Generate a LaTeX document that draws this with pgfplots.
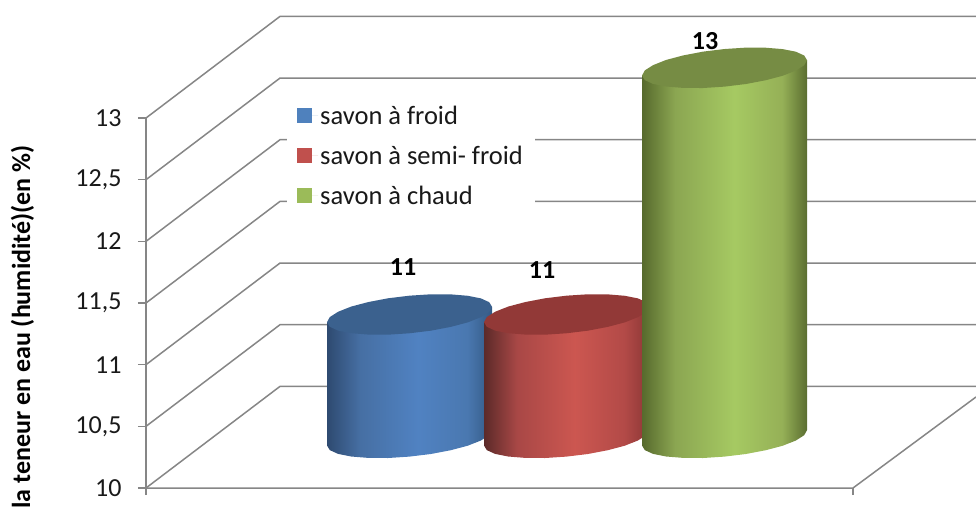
\documentclass[border=0pt]{standalone}
\usepackage{fontspec}
\setmainfont{Carlito}
\usepackage{pgfplots}
\usepackage{pgfplotstable}
\pgfplotsset{compat=1.18}

\definecolor{wall}{HTML}{868686}
\definecolor{bluetop}{HTML}{3B618E}
\definecolor{redtop}{HTML}{923937}
\definecolor{greentop}{HTML}{768C44}
\definecolor{bluekey}{HTML}{4F81BD}
\definecolor{redkey}{HTML}{C0504D}
\definecolor{greenkey}{HTML}{9BBB59}

% side of each cylinder, dark at both edges
\pgfdeclarehorizontalshading{blueside}{100bp}{rgb(0bp)=(.18,.29,.44); rgb(25bp)=(.18,.29,.44); rgb(35bp)=(.275,.435,.64); rgb(52.5bp)=(.314,.51,.76); rgb(67.5bp)=(.29,.47,.69); rgb(75bp)=(.2,.35,.52); rgb(100bp)=(.2,.35,.52)}
\pgfdeclarehorizontalshading{redside}{100bp}{rgb(0bp)=(.36,.165,.16); rgb(25bp)=(.36,.165,.16); rgb(35bp)=(.66,.28,.275); rgb(52.5bp)=(.80,.34,.315); rgb(67.5bp)=(.70,.29,.28); rgb(75bp)=(.545,.215,.21); rgb(100bp)=(.545,.215,.21)}
\pgfdeclarehorizontalshading{greenside}{100bp}{rgb(0bp)=(.34,.415,.175); rgb(25bp)=(.34,.415,.175); rgb(35bp)=(.545,.65,.32); rgb(53bp)=(.65,.79,.385); rgb(67.5bp)=(.585,.69,.34); rgb(75bp)=(.355,.43,.19); rgb(100bp)=(.355,.43,.19)}

% outlines, in pixels from the cylinder's centre; level 0 = floor, 1 = top
\pgfplotstableread{
dx dy level
-82.5 -7.7 1
-82.5 -7.7 0
-79.7 -12.3 0
-71.4 -16.1 0
-58.3 -18.7 0
-41.3 -20.1 0
-21.4 -20.2 0
0 -18.8 0
21.4 -16.2 0
41.3 -12.4 0
58.3 -7.9 0
71.4 -2.7 0
79.7 2.6 0
82.5 7.7 0
82.5 7.7 1
}\bodyshape
\pgfplotstableread{
dx dy
82.5 7.7
79.7 12.3
71.4 16.1
58.3 18.7
41.3 20.1
21.4 20.2
0 18.8
-21.4 16.2
-41.3 12.4
-58.3 7.9
-71.4 2.7
-79.7 -2.6
-82.5 -7.7
-79.7 -12.3
-71.4 -16.1
-58.3 -18.7
-41.3 -20.1
-21.4 -20.2
0 -18.8
21.4 -16.2
41.3 -12.4
58.3 -7.9
71.4 -2.7
79.7 2.6
}\topshape

% #1 centre x, #2 value, #3 side shading, #4 top colour
\newcommand{\cylinder}[4]{%
  \addplot[forget plot, draw=none, shade, shading=#3] table[
    x expr=#1+\thisrow{dx},
    y expr=10.407+\thisrow{level}*(#2-10)+\thisrow{dy}/123.33] {\bodyshape} -- cycle;
  \addplot[forget plot, draw=none, fill=#4] table[
    x expr=#1+\thisrow{dx},
    y expr=10.407+(#2-10)+\thisrow{dy}/123.33] {\topshape} -- cycle;
}

\begin{document}
\begin{tikzpicture}
\path[use as bounding box] (-146pt,0pt) rectangle (830pt,511pt);
\clip (-146pt,0pt) rectangle (830pt,511pt);
\begin{axis}[
    scale only axis,
    width=830pt,
    height=511pt,
    xmin=146, xmax=976,
    ymin=9.8135, ymax=13.957,
    clip=false,
    hide x axis,
    axis y line*=left,
    y axis line style={draw=none},
    ytick={10,10.5,11,11.5,12,12.5,13},
    tick align=outside,
    major tick length=8pt,
    tick style={draw=wall, line width=1.5pt},
    /pgf/number format/assume math mode=true,
    /pgf/number format/use comma,
    /pgf/number format/fixed,
    yticklabel style={font=\fontsize{26}{30}\selectfont, xshift=-13pt, text=black!90},
    ylabel={\textbf{la teneur en eau (humidité)(en \%)}},
    ylabel style={font=\fontsize{26}{30}\selectfont, at={(axis description cs:-0.149,0.36)}, anchor=center, rotate=0},
    legend image code/.code={\fill[#1] (0pt,-7.5pt) rectangle (15pt,7.5pt); \path (0pt,0pt) -- (21pt,0pt);},
    legend style={
      at={(axis cs:287,13.149)}, anchor=north west, draw=none, fill=white,
      font=\fontsize{26.5}{30}\selectfont, text=black!90,
      inner xsep=10pt, inner ysep=4pt,
      row sep=16pt,
      legend cell align=left,
    },
  ]
  % floor and walls
  \addplot[forget plot, wall, line width=1.5pt] coordinates {(146,9.943) (146,13)};
  \addplot[forget plot, wall, line width=1.5pt] coordinates {(853,9.943) (853,10)};
  \addplot[forget plot, wall, line width=1.5pt] coordinates {(146,10) (853,10) (976,10.738)};
  \addplot[forget plot, wall, line width=1.5pt] coordinates {(146,10) (280,10.824) (976,10.824)};
  \addplot[forget plot, wall, line width=1.5pt] coordinates {(146,10.5) (280,11.324) (976,11.324)};
  \addplot[forget plot, wall, line width=1.5pt] coordinates {(146,11) (280,11.824) (976,11.824)};
  \addplot[forget plot, wall, line width=1.5pt] coordinates {(146,11.5) (280,12.324) (976,12.324)};
  \addplot[forget plot, wall, line width=1.5pt] coordinates {(146,12) (280,12.824) (976,12.824)};
  \addplot[forget plot, wall, line width=1.5pt] coordinates {(146,12.5) (280,13.324) (976,13.324)};
  \addplot[forget plot, wall, line width=1.5pt] coordinates {(146,13) (280,13.824) (976,13.824)};

  \cylinder{409.5}{11}{blueside}{bluetop}
  \cylinder{566.5}{11}{redside}{redtop}
  \cylinder{724.5}{13}{greenside}{greentop}

  \addlegendimage{fill=bluekey, draw=none}
  \addlegendentry{savon à froid}
  \addlegendimage{fill=redkey, draw=none}
  \addlegendentry{savon à semi- froid}
  \addlegendimage{fill=greenkey, draw=none}
  \addlegendentry{savon à chaud}

  \node[font=\bfseries\fontsize{26}{30}\selectfont] at (axis cs:403,11.792) {11};
  \node[font=\bfseries\fontsize{26}{30}\selectfont] at (axis cs:542,11.768) {11};
  \node[font=\bfseries\fontsize{26}{30}\selectfont] at (axis cs:705,13.624) {13};
\end{axis}
\end{tikzpicture}
\end{document}
